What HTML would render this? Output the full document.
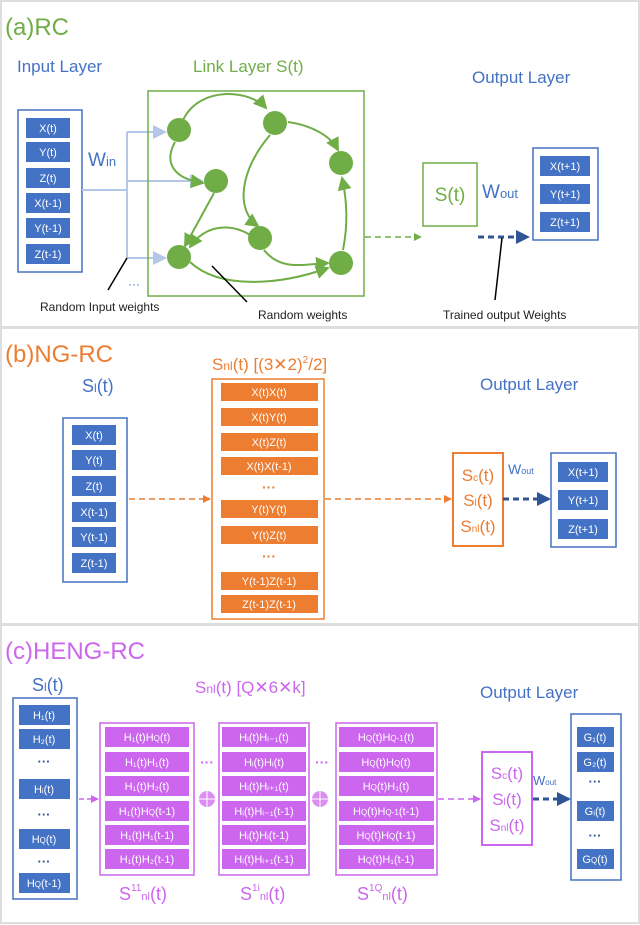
<!DOCTYPE html>
<html><head><meta charset="utf-8"><style>
html,body{margin:0;padding:0;background:#fff}
svg{display:block}
text{font-family:"Liberation Sans",sans-serif}
.w{fill:#fff;font-size:11px;text-anchor:middle}
.bb{fill:#4472c4}
.ob{fill:#ed7d31}
.mb{fill:#cc66ee}
</style></head><body>
<svg width="640" height="925" viewBox="0 0 640 925">
<defs>
<marker id="ga" markerWidth="8" markerHeight="8" refX="6" refY="4" orient="auto" markerUnits="userSpaceOnUse"><path d="M0,0L8,4L0,8z" fill="#70ad47"/></marker>
<marker id="gb" markerWidth="14" markerHeight="14" refX="12" refY="7" orient="auto" markerUnits="userSpaceOnUse"><path d="M0,0L14,7L0,14z" fill="#70ad47"/></marker>
<marker id="la" markerWidth="14" markerHeight="14" refX="12" refY="7" orient="auto" markerUnits="userSpaceOnUse"><path d="M0,0L14,7L0,14z" fill="#b4c7e7"/></marker>
<marker id="ba" markerWidth="14" markerHeight="14" refX="12" refY="7" orient="auto" markerUnits="userSpaceOnUse"><path d="M0,0L14,7L0,14z" fill="#2f5597"/></marker>
<marker id="oa" markerWidth="8" markerHeight="8" refX="7" refY="4" orient="auto" markerUnits="userSpaceOnUse"><path d="M0,0L8,4L0,8z" fill="#ed7d31"/></marker>
<marker id="ma" markerWidth="8" markerHeight="8" refX="7" refY="4" orient="auto" markerUnits="userSpaceOnUse"><path d="M0,0L8,4L0,8z" fill="#cc66ee"/></marker>
</defs>
<rect x="1" y="1" width="638" height="326" fill="none" stroke="#ddd" stroke-width="2"/>
<rect x="1" y="328" width="638" height="296" fill="none" stroke="#ddd" stroke-width="2"/>
<rect x="1" y="625" width="638" height="298" fill="none" stroke="#ddd" stroke-width="2"/>

<!-- (a) -->
<text x="5" y="35" font-size="24" fill="#70ad47">(a)RC</text>
<text x="17" y="72" font-size="17" fill="#4472c4">Input Layer</text>
<text x="193" y="72" font-size="17" fill="#70ad47">Link Layer S(t)</text>
<text x="472" y="83" font-size="17" fill="#4472c4">Output Layer</text>
<rect x="18" y="110" width="64" height="162" fill="none" stroke="#4472c4" stroke-width="1.5"/>
<g>
<rect class="bb" x="26" y="118" width="44" height="20"/><text class="w" x="48" y="132">X(t)</text>
<rect class="bb" x="26" y="142" width="44" height="20"/><text class="w" x="48" y="156">Y(t)</text>
<rect class="bb" x="26" y="168" width="44" height="20"/><text class="w" x="48" y="182">Z(t)</text>
<rect class="bb" x="26" y="193" width="44" height="20"/><text class="w" x="48" y="207">X(t-1)</text>
<rect class="bb" x="26" y="218" width="44" height="20"/><text class="w" x="48" y="232">Y(t-1)</text>
<rect class="bb" x="26" y="244" width="44" height="20"/><text class="w" x="48" y="258">Z(t-1)</text>
</g>
<text x="88" y="166" font-size="19" fill="#4472c4">W<tspan font-size="13">in</tspan></text>
<g stroke="#b4c7e7" stroke-width="2" fill="none">
<path d="M82,190H127"/><path d="M127,132V258"/>
<path d="M127,132H165" marker-end="url(#la)"/>
<path d="M127,181H202" marker-end="url(#la)"/>
<path d="M127,258H165" marker-end="url(#la)"/>
</g>
<text x="128" y="288" font-size="12" fill="#4472c4">···</text>
<rect x="148" y="91" width="216" height="205" fill="none" stroke="#70ad47" stroke-width="1.5"/>
<g stroke="#70ad47" stroke-width="2" fill="none">
<path d="M183,120C200,85 250,90 266,108" marker-end="url(#gb)"/>
<path d="M288,122C310,125 330,135 338,150" marker-end="url(#gb)"/>
<path d="M175,142C165,160 170,178 203,183" marker-end="url(#gb)"/>
<path d="M270,135C240,170 235,210 258,226" marker-end="url(#gb)"/>
<path d="M214,193L185,246" marker-end="url(#gb)"/>
<path d="M252,236C230,222 205,225 190,247" marker-end="url(#gb)"/>
<path d="M264,250C280,270 300,265 328,263" marker-end="url(#gb)"/>
<path d="M190,262C220,290 280,285 328,268" marker-end="url(#gb)"/>
<path d="M343,250C348,225 347,200 342,178" marker-end="url(#gb)"/>
</g>
<g fill="#70ad47">
<circle cx="179" cy="130" r="12"/><circle cx="275" cy="123" r="12"/><circle cx="341" cy="163" r="12"/>
<circle cx="216" cy="181" r="12"/><circle cx="260" cy="238" r="12"/><circle cx="179" cy="257" r="12"/>
<circle cx="341" cy="263" r="12"/>
</g>
<path d="M365,237H420" stroke="#70ad47" stroke-width="1.5" stroke-dasharray="6,4" marker-end="url(#ga)"/>
<rect x="423" y="163" width="54" height="63" fill="none" stroke="#70ad47" stroke-width="1.5"/>
<text x="450" y="201" font-size="19" fill="#70ad47" text-anchor="middle">S(t)</text>
<text x="482" y="198" font-size="19" fill="#4472c4">W<tspan font-size="13">out</tspan></text>
<path d="M478,237H528" stroke="#2f5597" stroke-width="3" stroke-dasharray="6,4" marker-end="url(#ba)"/>
<rect x="533" y="148" width="65" height="92" fill="none" stroke="#4472c4" stroke-width="1.5"/>
<rect class="bb" x="540" y="156" width="50" height="20"/><text class="w" x="565" y="170">X(t+1)</text>
<rect class="bb" x="540" y="184" width="50" height="20"/><text class="w" x="565" y="198">Y(t+1)</text>
<rect class="bb" x="540" y="212" width="50" height="20"/><text class="w" x="565" y="226">Z(t+1)</text>
<g stroke="#000" stroke-width="1.5"><path d="M108,290L127,258"/><path d="M212,266L247,302"/><path d="M502,238L495,300"/></g>
<text x="40" y="311" font-size="12" fill="#222">Random Input weights</text>
<text x="258" y="319" font-size="12" fill="#222">Random weights</text>
<text x="443" y="319" font-size="12" fill="#222">Trained output Weights</text>

<!-- (b) -->
<text x="5" y="362" font-size="24" fill="#ed7d31">(b)NG-RC</text>
<text x="82" y="392" font-size="18" fill="#4472c4">S<tspan font-size="12">l</tspan>(t)</text>
<text x="212" y="370" font-size="17" fill="#ed7d31">S<tspan font-size="12">nl</tspan>(t) [(3✕2)<tspan dy="-7" font-size="10">2</tspan><tspan dy="7">/2]</tspan></text>
<text x="480" y="390" font-size="17" fill="#4472c4">Output Layer</text>
<rect x="63" y="418" width="64" height="164" fill="none" stroke="#4472c4" stroke-width="1.5"/>
<rect class="bb" x="72" y="425" width="44" height="20"/><text class="w" x="94" y="439">X(t)</text>
<rect class="bb" x="72" y="450" width="44" height="20"/><text class="w" x="94" y="464">Y(t)</text>
<rect class="bb" x="72" y="476" width="44" height="20"/><text class="w" x="94" y="490">Z(t)</text>
<rect class="bb" x="72" y="502" width="44" height="20"/><text class="w" x="94" y="516">X(t-1)</text>
<rect class="bb" x="72" y="527" width="44" height="20"/><text class="w" x="94" y="541">Y(t-1)</text>
<rect class="bb" x="72" y="553" width="44" height="20"/><text class="w" x="94" y="567">Z(t-1)</text>
<rect x="212" y="379" width="112" height="240" fill="none" stroke="#ed7d31" stroke-width="1.5"/>
<g>
<rect class="ob" x="221" y="383" width="97" height="18"/><text class="w" x="269" y="396">X(t)X(t)</text>
<rect class="ob" x="221" y="408" width="97" height="18"/><text class="w" x="269" y="421">X(t)Y(t)</text>
<rect class="ob" x="221" y="433" width="97" height="18"/><text class="w" x="269" y="446">X(t)Z(t)</text>
<rect class="ob" x="221" y="457" width="97" height="18"/><text class="w" x="269" y="470">X(t)X(t-1)</text>
<text x="269" y="492" font-size="14" fill="#ed7d31" text-anchor="middle" font-weight="bold">···</text>
<rect class="ob" x="221" y="500" width="97" height="18"/><text class="w" x="269" y="513">Y(t)Y(t)</text>
<rect class="ob" x="221" y="526" width="97" height="18"/><text class="w" x="269" y="539">Y(t)Z(t)</text>
<text x="269" y="561" font-size="14" fill="#ed7d31" text-anchor="middle" font-weight="bold">···</text>
<rect class="ob" x="221" y="572" width="97" height="18"/><text class="w" x="269" y="585">Y(t-1)Z(t-1)</text>
<rect class="ob" x="221" y="595" width="97" height="18"/><text class="w" x="269" y="608">Z(t-1)Z(t-1)</text>
</g>
<path d="M129,499H210" stroke="#ed7d31" stroke-width="1.5" stroke-dasharray="6,4" marker-end="url(#oa)"/>
<path d="M325,499H451" stroke="#ed7d31" stroke-width="1.5" stroke-dasharray="6,4" marker-end="url(#oa)"/>
<rect x="453" y="453" width="50" height="93" fill="none" stroke="#ed7d31" stroke-width="2"/>
<g font-size="17" fill="#ed7d31" text-anchor="middle">
<text x="478" y="481">S<tspan font-size="10">c</tspan>(t)</text>
<text x="478" y="506">S<tspan font-size="10">l</tspan>(t)</text>
<text x="478" y="532">S<tspan font-size="10">nl</tspan>(t)</text>
</g>
<text x="508" y="474" font-size="14" fill="#4472c4">W<tspan font-size="9">out</tspan></text>
<path d="M503,499H549" stroke="#2f5597" stroke-width="3" stroke-dasharray="6,4" marker-end="url(#ba)"/>
<rect x="551" y="453" width="65" height="94" fill="none" stroke="#4472c4" stroke-width="1.5"/>
<rect class="bb" x="558" y="462" width="50" height="20"/><text class="w" x="583" y="476">X(t+1)</text>
<rect class="bb" x="558" y="490" width="50" height="20"/><text class="w" x="583" y="504">Y(t+1)</text>
<rect class="bb" x="558" y="519" width="50" height="20"/><text class="w" x="583" y="533">Z(t+1)</text>

<!-- (c) -->
<text x="5" y="659" font-size="24" fill="#cc66ee">(c)HENG-RC</text>
<text x="32" y="691" font-size="18" fill="#4472c4">S<tspan font-size="12">l</tspan>(t)</text>
<text x="195" y="693" font-size="17" fill="#cc66ee">S<tspan font-size="12">nl</tspan>(t)  [Q✕6✕k]</text>
<text x="480" y="698" font-size="17" fill="#4472c4">Output Layer</text>
<rect x="13" y="698" width="64" height="201" fill="none" stroke="#4472c4" stroke-width="1.5"/>
<g>
<rect class="bb" x="19" y="705" width="51" height="20"/><text class="w" x="44" y="719">H₁(t)</text>
<rect class="bb" x="19" y="729" width="51" height="20"/><text class="w" x="44" y="743">H₂(t)</text>
<text x="44" y="766" font-size="13" fill="#2f5597" text-anchor="middle" font-weight="bold">···</text>
<rect class="bb" x="19" y="779" width="51" height="20"/><text class="w" x="44" y="793">Hᵢ(t)</text>
<text x="44" y="819" font-size="13" fill="#2f5597" text-anchor="middle" font-weight="bold">···</text>
<rect class="bb" x="19" y="829" width="51" height="20"/><text class="w" x="44" y="843">H<tspan font-size="8">Q</tspan>(t)</text>
<text x="44" y="866" font-size="13" fill="#2f5597" text-anchor="middle" font-weight="bold">···</text>
<rect class="bb" x="19" y="873" width="51" height="20"/><text class="w" x="44" y="887">H<tspan font-size="8">Q</tspan>(t-1)</text>
</g>
<path d="M79,799H98" stroke="#cc66ee" stroke-width="1.5" stroke-dasharray="5,3" marker-end="url(#ma)"/>
<g stroke="#cc66ee" stroke-width="1.5" fill="none">
<rect x="100" y="723" width="94" height="152"/><rect x="219" y="723" width="90" height="152"/><rect x="336" y="723" width="101" height="152"/>
</g>
<g>
<rect class="mb" x="105" y="727" width="84" height="20"/><text class="w" x="147" y="741">H₁(t)H<tspan font-size="8">Q</tspan>(t)</text>
<rect class="mb" x="105" y="752" width="84" height="20"/><text class="w" x="147" y="766">H₁(t)H₁(t)</text>
<rect class="mb" x="105" y="776" width="84" height="20"/><text class="w" x="147" y="790">H₁(t)H₂(t)</text>
<rect class="mb" x="105" y="801" width="84" height="20"/><text class="w" x="147" y="815">H₁(t)H<tspan font-size="8">Q</tspan>(t-1)</text>
<rect class="mb" x="105" y="825" width="84" height="20"/><text class="w" x="147" y="839">H₁(t)H₁(t-1)</text>
<rect class="mb" x="105" y="849" width="84" height="20"/><text class="w" x="147" y="863">H₁(t)H₂(t-1)</text>

<rect class="mb" x="222" y="727" width="84" height="20"/><text class="w" x="264" y="741">Hᵢ(t)Hᵢ₋₁(t)</text>
<rect class="mb" x="222" y="752" width="84" height="20"/><text class="w" x="264" y="766">Hᵢ(t)Hᵢ(t)</text>
<rect class="mb" x="222" y="776" width="84" height="20"/><text class="w" x="264" y="790">Hᵢ(t)Hᵢ₊₁(t)</text>
<rect class="mb" x="222" y="801" width="84" height="20"/><text class="w" x="264" y="815">Hᵢ(t)Hᵢ₋₁(t-1)</text>
<rect class="mb" x="222" y="825" width="84" height="20"/><text class="w" x="264" y="839">Hᵢ(t)Hᵢ(t-1)</text>
<rect class="mb" x="222" y="849" width="84" height="20"/><text class="w" x="264" y="863">Hᵢ(t)Hᵢ₊₁(t-1)</text>

<rect class="mb" x="339" y="727" width="95" height="20"/><text class="w" x="386" y="741">H<tspan font-size="8">Q</tspan>(t)H<tspan font-size="8">Q-1</tspan>(t)</text>
<rect class="mb" x="339" y="752" width="95" height="20"/><text class="w" x="386" y="766">H<tspan font-size="8">Q</tspan>(t)H<tspan font-size="8">Q</tspan>(t)</text>
<rect class="mb" x="339" y="776" width="95" height="20"/><text class="w" x="386" y="790">H<tspan font-size="8">Q</tspan>(t)H₁(t)</text>
<rect class="mb" x="339" y="801" width="95" height="20"/><text class="w" x="386" y="815">H<tspan font-size="8">Q</tspan>(t)H<tspan font-size="8">Q-1</tspan>(t-1)</text>
<rect class="mb" x="339" y="825" width="95" height="20"/><text class="w" x="386" y="839">H<tspan font-size="8">Q</tspan>(t)H<tspan font-size="8">Q</tspan>(t-1)</text>
<rect class="mb" x="339" y="849" width="95" height="20"/><text class="w" x="386" y="863">H<tspan font-size="8">Q</tspan>(t)H₁(t-1)</text>
</g>
<text x="207" y="767" font-size="14" fill="#cc66ee" text-anchor="middle" font-weight="bold">···</text>
<text x="322" y="767" font-size="14" fill="#cc66ee" text-anchor="middle" font-weight="bold">···</text>
<circle cx="207" cy="799" r="8" fill="#d98ef0"/><path d="M199,799H215M207,791V807" stroke="#fff" stroke-width="1"/>
<circle cx="320" cy="799" r="8" fill="#d98ef0"/><path d="M312,799H328M320,791V807" stroke="#fff" stroke-width="1"/>
<g font-size="18" fill="#cc66ee">
<text x="119" y="900">S<tspan font-size="10" dy="-9">11</tspan><tspan font-size="11" dy="9">nl</tspan>(t)</text>
<text x="240" y="900">S<tspan font-size="10" dy="-9">1i</tspan><tspan font-size="11" dy="9">nl</tspan>(t)</text>
<text x="357" y="900">S<tspan font-size="10" dy="-9">1Q</tspan><tspan font-size="11" dy="9">nl</tspan>(t)</text>
</g>
<path d="M438,799H480" stroke="#cc66ee" stroke-width="1.5" stroke-dasharray="6,4" marker-end="url(#ma)"/>
<rect x="482" y="752" width="50" height="93" fill="none" stroke="#cc66ee" stroke-width="2"/>
<g font-size="17" fill="#cc66ee" text-anchor="middle">
<text x="507" y="779">S<tspan font-size="10">c</tspan>(t)</text>
<text x="507" y="805">S<tspan font-size="10">l</tspan>(t)</text>
<text x="507" y="831">S<tspan font-size="10">nl</tspan>(t)</text>
</g>
<text x="533" y="815" font-size="13" fill="#4472c4" transform="translate(0,-30)">W<tspan font-size="8">out</tspan></text>
<path d="M533,799H569" stroke="#2f5597" stroke-width="3" stroke-dasharray="6,4" marker-end="url(#ba)"/>
<rect x="571" y="714" width="50" height="166" fill="none" stroke="#4472c4" stroke-width="1.5"/>
<rect class="bb" x="577" y="727" width="37" height="20"/><text class="w" x="595" y="741">G₁(t)</text>
<rect class="bb" x="577" y="752" width="37" height="20"/><text class="w" x="595" y="766">G₂(t)</text>
<text x="595" y="786" font-size="13" fill="#2f5597" text-anchor="middle" font-weight="bold">···</text>
<rect class="bb" x="577" y="801" width="37" height="20"/><text class="w" x="595" y="815">Gᵢ(t)</text>
<text x="595" y="840" font-size="13" fill="#2f5597" text-anchor="middle" font-weight="bold">···</text>
<rect class="bb" x="577" y="849" width="37" height="20"/><text class="w" x="595" y="863">G<tspan font-size="8">Q</tspan>(t)</text>
</svg>
</body></html>
